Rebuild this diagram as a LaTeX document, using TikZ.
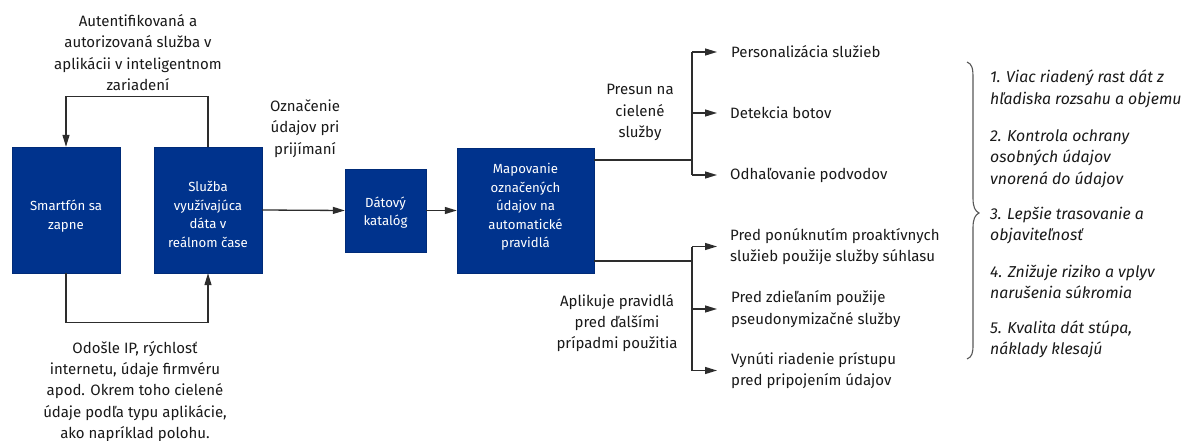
\documentclass[tikz,border=0pt]{standalone}
\usepackage{fontspec}
\setmainfont{Fira Sans}
\usetikzlibrary{arrows.meta}
\definecolor{boxblue}{RGB}{0,51,141}
\definecolor{ink}{RGB}{25,25,25}
\definecolor{wire}{RGB}{45,45,45}
\begin{document}
\begin{tikzpicture}[x=1pt,y=-1pt,
  stepbox/.style={draw=boxblue!85!black, fill=boxblue, inner sep=0pt},
  boxtext/.style={text=white, align=center, font=\fontsize{13.2}{18.6}\selectfont, inner sep=0pt},
  note/.style={text=ink, align=center, font=\fontsize{15}{21.3}\selectfont, inner sep=0pt},
  outcome/.style={text=ink, align=left, anchor=west, font=\fontsize{15}{21.3}\selectfont, inner sep=0pt},
  benefit/.style={text=ink, align=left, anchor=west, font=\fontsize{15.8}{21.5}\selectfont\itshape, inner sep=0pt},
  wirestyle/.style={draw=wire, line width=1.3pt},
  arr/.style={wirestyle, -{Triangle[length=12pt,width=7pt]}}]
\useasboundingbox (0,0) rectangle (1184,441);

% process boxes
\node[stepbox, minimum width=108pt, minimum height=126pt] (phone) at (66,210) {};
\node[stepbox, minimum width=108pt, minimum height=126pt] (service) at (208,210) {};
\node[stepbox, minimum width=81pt, minimum height=83pt] (catalog) at (385.5,210.5) {};
\node[stepbox, minimum width=137pt, minimum height=125pt] (mapping) at (525.5,210.5) {};
\node[boxtext] (phonetext) at ([yshift=-6pt]phone.center) {Smartfón sa\\zapne};
\node[boxtext] (servicetext) at ([yshift=-4.5pt]service.center) {Služba\\využívajúca\\dáta v\\reálnom čase};
\node[boxtext] (catalogtext) at ([yshift=-2pt]catalog.center) {Dátový\\katalóg};
\node[boxtext] (mappingtext) at ([yshift=3.5pt]mapping.center) {Mapovanie\\označených\\údajov na\\automatické\\pravidlá};

% loop labels
\node[note] (auth) at (138,52.5) {Autentifikovaná a\\autorizovaná služba v\\aplikácii v inteligentnom\\zariadení};
\node[note] (sends) at (135,391.5) {Odošle IP, rýchlosť\\internetu, údaje firmvéru\\apod. Okrem toho cielené\\údaje podľa typu aplikácie,\\ako napríklad polohu.};
\node[note] (tagging) at (305,128.5) {Označenie\\údajov pri\\prijímaní};
\node[note] (move) at (640,112.5) {Presun na\\cielené\\služby};
\node[note] (apply) at (617,323) {Aplikuje pravidlá\\pred ďalšími\\prípadmi použitia};

% loops between phone and service
\draw[arr] (service.north) -- ++(0,-50) -| (phone.north);
\draw[arr] (phone.south) -- ++(0,49) -| (service.south);
\draw[arr] (service.east) -- (catalog.west);
\draw[arr] (catalog.east) -- (mapping.west);

% outcomes
\node[outcome] (o1) at (731,52) {Personalizácia služieb};
\node[outcome] (o2) at (730,113) {Detekcia botov};
\node[outcome] (o3) at (730,175) {Odhaľovanie podvodov};
\node[outcome] (o4) at (730,246.5) {Pred ponúknutím proaktívnych\\služieb použije služby súhlasu};
\node[outcome] (o5) at (731,309) {Pred zdieľaním použije\\pseudonymizačné služby};
\node[outcome] (o6) at (731,370.5) {Vynúti riadenie prístupu\\pred pripojením údajov};

\coordinate (j1) at (692,160);
\coordinate (j2) at (692,261);
\draw[wirestyle] (mapping.east |- j1) -- (j1);
\draw[wirestyle] (mapping.east |- j2) -- (j2);
\draw[wirestyle] (j1 |- o1.west) -- (j1 |- o3.west);
\draw[wirestyle] (j2 |- o4.west) -- (j2 |- o6.west);
\foreach \o in {o1,o2,o3}
  \draw[arr] (j1 |- \o.west) -- (717,0 |- \o.west);
\foreach \o in {o4,o5,o6}
  \draw[arr] (j2 |- \o.west) -- (717,0 |- \o.west);

% brace and benefits
\draw[draw=wire!80, line width=1.1pt] (967,62) .. controls (972,64) and (973,68) .. (973,78)
  -- (973,198) .. controls (973,207) and (975,211) .. (979,213)
  .. controls (975,215) and (973,219) .. (973,228)
  -- (973,345) .. controls (973,353) and (972,357) .. (967,359);
\node[benefit] (b1) at (990,89) {1. Viac riadený rast dát z\\hľadiska rozsahu a objemu};
\node[benefit] (b2) at (990,158.5) {2. Kontrola ochrany\\osobných údajov\\vnorená do údajov};
\node[benefit] (b3) at (990,225.5) {3. Lepšie trasovanie a\\objaviteľnosť};
\node[benefit] (b4) at (990,282) {4. Znižuje riziko a vplyv\\narušenia súkromia};
\node[benefit] (b5) at (990,339.5) {5. Kvalita dát stúpa,\\náklady klesajú};
\end{tikzpicture}
\end{document}
